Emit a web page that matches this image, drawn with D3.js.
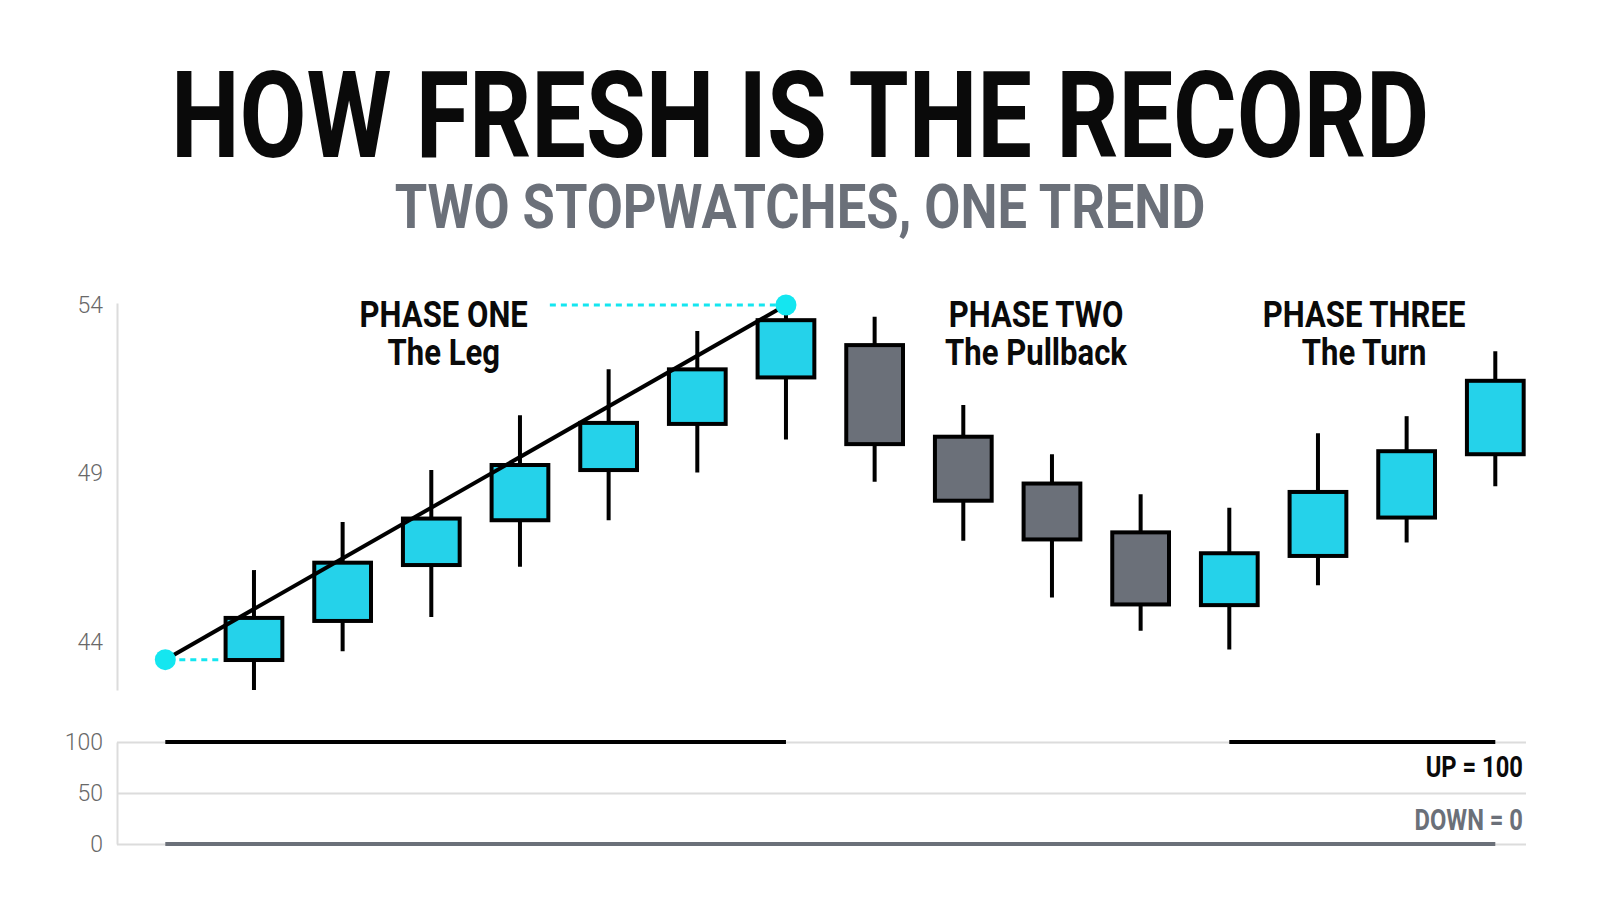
<!DOCTYPE html>
<html>
<head>
<meta charset="utf-8">
<script src="https://cdn.jsdelivr.net/npm/d3@7"></script>
<style>
  html, body { margin: 0; padding: 0; background: #fff; }
  svg { display: block; font-family: Roboto, "Noto Sans", sans-serif; }
</style>
</head>
<body>
<svg id="chart" width="1600" height="914"></svg>
<script>
// candles, one per step after the start point (step 1..15)
const opens  = [43.46, 44.62, 46.28, 47.61, 49.10, 50.47, 51.85, 52.81, 50.09, 48.70, 47.25, 45.09, 46.55, 47.69, 49.57];
const closes = [44.71, 46.35, 47.66, 49.25, 50.50, 52.09, 53.55, 49.87, 48.19, 47.04, 45.11, 46.63, 48.45, 49.66, 51.75];
const highs  = [46.13, 47.56, 49.10, 50.73, 52.09, 53.23, 53.95, 53.65, 51.03, 49.57, 48.38, 47.98, 50.19, 50.70, 52.63];
const lows   = [42.57, 43.72, 44.74, 46.23, 47.61, 49.03, 50.01, 48.75, 47.00, 45.32, 44.33, 43.77, 45.68, 46.95, 48.62];

// the leg: where phase one starts and where the record is set
const legSteps  = [0, 7];
const legValues = [43.47, 54.0];

// the two stopwatches (lower panel), one value per step 0..15
const upWatch   = [100, 100, 100, 100, 100, 100, 100, 100, null, null, null, null, 100, 100, 100, 100];
const downWatch = [0, 0, 0, 0, 0, 0, 0, 0, 0, 0, 0, 0, 0, 0, 0, 0];

const priceTicks = [44, 49, 54];
const watchTicks = [0, 50, 100];

const phaseTitles = ['PHASE ONE', 'PHASE TWO', 'PHASE THREE'];
const phaseNames  = ['The Leg', 'The Pullback', 'The Turn'];
const watchLabels = ['UP = 100', 'DOWN = 0'];

const colors = {
    up: '#25d2ea',
    down: '#6b7079',
    dot: '#14e6f0',
    ink: '#0a0a0a',
    grey: '#6b7079',
    tick: '#686868',
    grid: '#dcdcdc'
};

const config = {
    axisX: 117,
    gridRight: 1526,
    priceTop: 303,
    priceBottom: 690,
    watchTop: 742,
    watchBottom: 844,
    squeeze: 0.82,
    phaseAt: [3.14, 9.82, 13.52]
};

let svg = d3.select('#chart');

// scales
let xStep = d3.scaleLinear()
    .domain([0, 15])
    .range([165.3, 1495.3]);

let yPrice = d3.scaleLinear()
    .domain([42.57, 54.06])
    .range([config.priceBottom, config.priceTop]);

let yWatch = d3.scaleLinear()
    .domain([0, 100])
    .range([config.watchBottom, config.watchTop]);

const bodyW = (xStep(1) - xStep(0)) * 0.64;

// condensed text helper
const label = (x, y, txt, size, weight, fill, anchor, sq = config.squeeze) => {
    return svg.append('text')
        .attr('transform', `translate(${x},${y}) scale(${sq},1)`)
        .attr('text-anchor', anchor)
        .style('font-size', size + 'px')
        .style('font-weight', weight)
        .style('fill', fill)
        .text(txt);
};

// titles
label(800, 157, 'HOW FRESH IS THE RECORD', 120, 700, colors.ink, 'middle', 0.81);
label(800, 228, 'TWO STOPWATCHES, ONE TREND', 61, 700, colors.grey, 'middle', 0.86);

// price axis
let priceAxis = svg.append('g')
    .attr('transform', `translate(${config.axisX},0)`)
    .call(d3.axisLeft(yPrice).tickValues(priceTicks).tickSize(0).tickPadding(14));
priceAxis.select('.domain').attr('stroke', colors.grid).attr('stroke-width', 2);
priceAxis.selectAll('text')
    .style('font-size', '23px')
    .style('font-weight', 300)
    .style('fill', colors.tick)
    .style('font-family', 'Roboto, sans-serif');

// stopwatch axis with gridlines
let watchAxis = svg.append('g')
    .attr('transform', `translate(${config.axisX},0)`)
    .call(d3.axisLeft(yWatch).tickValues(watchTicks)
        .tickSize(-(config.gridRight - config.axisX)).tickSizeOuter(0).tickPadding(14));
watchAxis.select('.domain').attr('stroke', colors.grid).attr('stroke-width', 2);
watchAxis.selectAll('.tick line').attr('stroke', colors.grid).attr('stroke-width', 2);
watchAxis.selectAll('text')
    .style('font-size', '23px')
    .style('font-weight', 300)
    .style('fill', colors.tick)
    .style('font-family', 'Roboto, sans-serif');

// phase labels
let phaseOne = null;
phaseTitles.forEach((t, k) => {
    let cx = xStep(config.phaseAt[k]);
    let head = label(cx, 327, t, 37, 700, colors.ink, 'middle', 0.84);
    label(cx, 365, phaseNames[k], 37, 700, colors.ink, 'middle', 0.84);
    if (k === 0) phaseOne = head;
});

// candles
let candles = d3.range(opens.length).map(i => ({
    step: i + 1, o: opens[i], c: closes[i], h: highs[i], l: lows[i]
}));

let cg = svg.append('g');
cg.selectAll('line.wick')
    .data(candles)
    .enter()
    .append('line')
    .attr('class', 'wick')
    .attr('x1', d => xStep(d.step))
    .attr('x2', d => xStep(d.step))
    .attr('y1', d => yPrice(d.h))
    .attr('y2', d => yPrice(d.l))
    .style('stroke', 'black')
    .style('stroke-width', 4);

cg.selectAll('rect.body')
    .data(candles)
    .enter()
    .append('rect')
    .attr('class', 'body')
    .attr('x', d => xStep(d.step) - bodyW / 2)
    .attr('y', d => yPrice(Math.max(d.o, d.c)))
    .attr('width', bodyW)
    .attr('height', d => Math.abs(yPrice(d.o) - yPrice(d.c)))
    .style('fill', d => d.c >= d.o ? colors.up : colors.down)
    .style('stroke', 'black')
    .style('stroke-width', 4);

// dotted guides from the two leg points
let bb = phaseOne.node().getBBox();
let labelRight = xStep(config.phaseAt[0]) + bb.width * 0.84 / 2;
svg.append('line')
    .attr('x1', labelRight + 22)
    .attr('x2', xStep(legSteps[1]))
    .attr('y1', yPrice(legValues[1]))
    .attr('y2', yPrice(legValues[1]))
    .style('stroke', colors.dot)
    .style('stroke-width', 3)
    .style('stroke-dasharray', '6 5');

svg.append('line')
    .attr('x1', xStep(legSteps[0]) + 14)
    .attr('x2', xStep(1) - bodyW / 2 - 4)
    .attr('y1', yPrice(legValues[0]))
    .attr('y2', yPrice(legValues[0]))
    .style('stroke', colors.dot)
    .style('stroke-width', 3)
    .style('stroke-dasharray', '6 5');

// the leg trend line
let legData = legSteps.map((s, i) => [s, legValues[i]]);
svg.append('path')
    .datum(legData)
    .attr('d', d3.line().x(d => xStep(d[0])).y(d => yPrice(d[1])))
    .style('fill', 'none')
    .style('stroke', 'black')
    .style('stroke-width', 4);

svg.selectAll('circle.leg')
    .data(legData)
    .enter()
    .append('circle')
    .attr('class', 'leg')
    .attr('cx', d => xStep(d[0]))
    .attr('cy', d => yPrice(d[1]))
    .attr('r', 10.5)
    .style('fill', colors.dot);

// stopwatch lines
const watchLine = d3.line()
    .defined(d => d != null)
    .x((d, i) => xStep(i))
    .y(d => yWatch(d));

svg.append('path')
    .datum(downWatch)
    .attr('d', watchLine)
    .style('fill', 'none')
    .style('stroke', colors.grey)
    .style('stroke-width', 4);

svg.append('path')
    .datum(upWatch)
    .attr('d', watchLine)
    .style('fill', 'none')
    .style('stroke', 'black')
    .style('stroke-width', 4);

label(1523, 777, watchLabels[0], 29, 700, colors.ink, 'end');
label(1523, 830, watchLabels[1], 29, 700, colors.grey, 'end');
</script>
</body>
</html>
